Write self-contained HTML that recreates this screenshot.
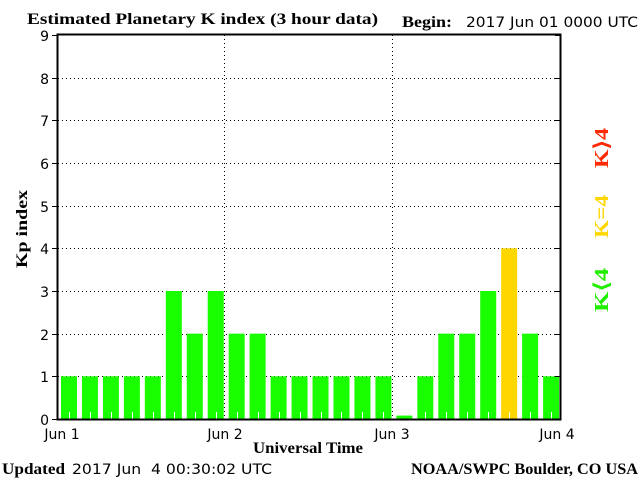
<!DOCTYPE html>
<html><head><meta charset="utf-8"><style>
html,body{margin:0;padding:0;background:#fff;width:640px;height:480px;overflow:hidden}
svg{display:block}
.s{font-family:"DejaVu Sans","Liberation Sans",sans-serif;font-size:14px}
.b{font-family:"Liberation Serif",serif;font-weight:bold;font-size:16px}
.r{font-family:"Liberation Serif",serif;font-weight:bold;font-size:20px}
</style></head><body>
<svg id="c" width="640" height="480" xmlns="http://www.w3.org/2000/svg">
<text x="27" y="24" class="b" textLength="351" lengthAdjust="spacingAndGlyphs">Estimated Planetary K index (3 hour data)</text>
<text x="402" y="27" class="b" textLength="50" lengthAdjust="spacingAndGlyphs">Begin:</text>
<text x="466" y="27" class="s" textLength="172" lengthAdjust="spacingAndGlyphs">2017 Jun 01 0000 UTC</text>
<g id="grid" stroke="#000" stroke-width="1" stroke-dasharray="1,3" fill="none"></g>
<g id="bars"></g>
<rect x="57.5" y="34.5" width="503" height="385" fill="none" stroke="#000" stroke-width="2"/>
<g id="yt" class="s" text-anchor="end"></g>
<text x="62" y="439" class="s" text-anchor="middle">Jun 1</text>
<text x="225" y="439" class="s" text-anchor="middle">Jun 2</text>
<text x="392" y="439" class="s" text-anchor="middle">Jun 3</text>
<text x="557" y="439" class="s" text-anchor="middle">Jun 4</text>
<text x="253" y="453" class="b" textLength="110" lengthAdjust="spacingAndGlyphs">Universal Time</text>
<text transform="translate(27,268) rotate(-90)" class="b" textLength="78" lengthAdjust="spacingAndGlyphs">Kp index</text>
<text transform="translate(608,168) rotate(-90)" class="r" fill="#ff2a00" textLength="40" lengthAdjust="spacingAndGlyphs">K⟩4</text>
<text transform="translate(608,238) rotate(-90)" class="r" fill="#ffd700" textLength="43" lengthAdjust="spacingAndGlyphs">K=4</text>
<text transform="translate(608,312) rotate(-90)" class="r" fill="#22ee00" textLength="44" lengthAdjust="spacingAndGlyphs">K⟨4</text>
<text x="2" y="474" class="b" textLength="63" lengthAdjust="spacingAndGlyphs">Updated</text>
<text x="72" y="474" class="s" textLength="200" lengthAdjust="spacingAndGlyphs" xml:space="preserve">2017 Jun  4 00:30:02 UTC</text>
<text x="411" y="474" class="b" textLength="227" lengthAdjust="spacingAndGlyphs">NOAA/SWPC Boulder, CO USA</text>
</svg>
<script>
var ns="http://www.w3.org/2000/svg";
function el(p,t,a){var e=document.createElementNS(ns,t);for(var k in a)e.setAttribute(k,a[k]);p.appendChild(e);return e;}
var y0=419,u=42.67,g=document.getElementById('grid'),yt=document.getElementById('yt'),bs=document.getElementById('bars');
for(var i=0;i<=9;i++){var y=y0-i*u;
 if(i>=1&&i<=8) el(g,'line',{x1:58,x2:560,y1:Math.round(y)+.5,y2:Math.round(y)+.5});
 el(document.getElementById('c'),'line',{x1:52,x2:58,y1:Math.round(y)+.5,y2:Math.round(y)+.5,stroke:'#000'});
 el(document.getElementById('c'),'line',{x1:555,x2:560,y1:Math.round(y)+.5,y2:Math.round(y)+.5,stroke:'#000'});
 var t=el(yt,'text',{x:49,y:Math.round(y)+6});t.textContent=i;}
[224.5,392.5].forEach(function(x){el(g,'line',{x1:x,x2:x,y1:35,y2:419});});
var v=[1,1,1,1,1,3,2,3,2,2,1,1,1,1,1,1,0.08,1,2,2,3,4,2,1];
for(var j=0;j<24;j++){var x=61+j*20.96,h=v[j]*u;
 el(bs,'rect',{x:x,y:y0-h,width:16,height:h,fill:v[j]>=4?'#ffd700':'#1aff00'});
 if(v[j]>0.5) el(bs,'line',{x1:Math.round(x+8)+.5,x2:Math.round(x+8)+.5,y1:412,y2:419,stroke:'#fff'});}
</script>
</body></html>
